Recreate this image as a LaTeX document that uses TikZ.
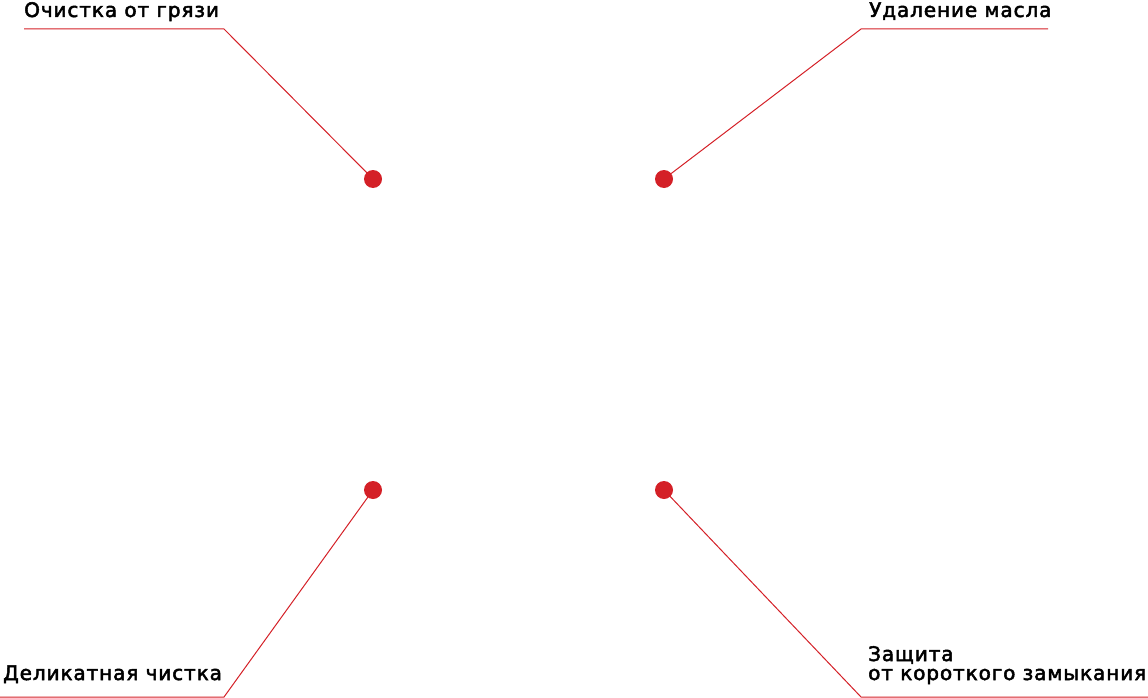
\documentclass[tikz,border=0pt]{standalone}
\usepackage{fontspec}
\setmainfont{DejaVu Sans}
\newfontfamily\lblfont[FakeBold=2.5,LetterSpace=4.5]{DejaVu Sans}
\definecolor{accent}{HTML}{D42027}
\begin{document}
\begin{tikzpicture}[x=1pt,y=-1pt,
  dot/.style={circle,fill=accent,inner sep=0pt,minimum size=18pt},
  leader/.style={draw=accent,line width=1pt},
  label/.style={inner sep=0pt,font=\lblfont\fontsize{20}{20}\selectfont,text=black}]
\useasboundingbox (0,0) rectangle (1148,698);
% dots
\node[dot] (d1) at (373,179) {};
\node[dot] (d2) at (664,179) {};
\node[dot] (d3) at (373,490) {};
\node[dot] (d4) at (664,490) {};
% corners
\coordinate (a1) at (24,29);  \coordinate (b1) at (224,29);
\coordinate (a2) at (1048,29); \coordinate (b2) at (861,29);
\coordinate (a3) at (0,697);  \coordinate (b3) at (224,697);
\coordinate (a4) at (1148,697); \coordinate (b4) at (861,697);
\draw[leader] (a1) -- (b1) -- (d1.center);
\draw[leader] (a2) -- (b2) -- (d2.center);
\draw[leader] (a3) -- (b3) -- (d3.center);
\draw[leader] (a4) -- (b4) -- (d4.center);
% labels
\node[label,anchor=base west] (t1) at (24,17) {Очистка от грязи};
\node[label,anchor=base west] (t2) at (869,17) {Удаление масла};
\node[label,anchor=base west] (t3) at (3,680) {Деликатная чистка};
\node[label,anchor=base west] (t4) at (868,661) {Защита};
\node[label,anchor=base west] (t5) at (868,680) {от короткого замыкания};
\end{tikzpicture}
\end{document}
